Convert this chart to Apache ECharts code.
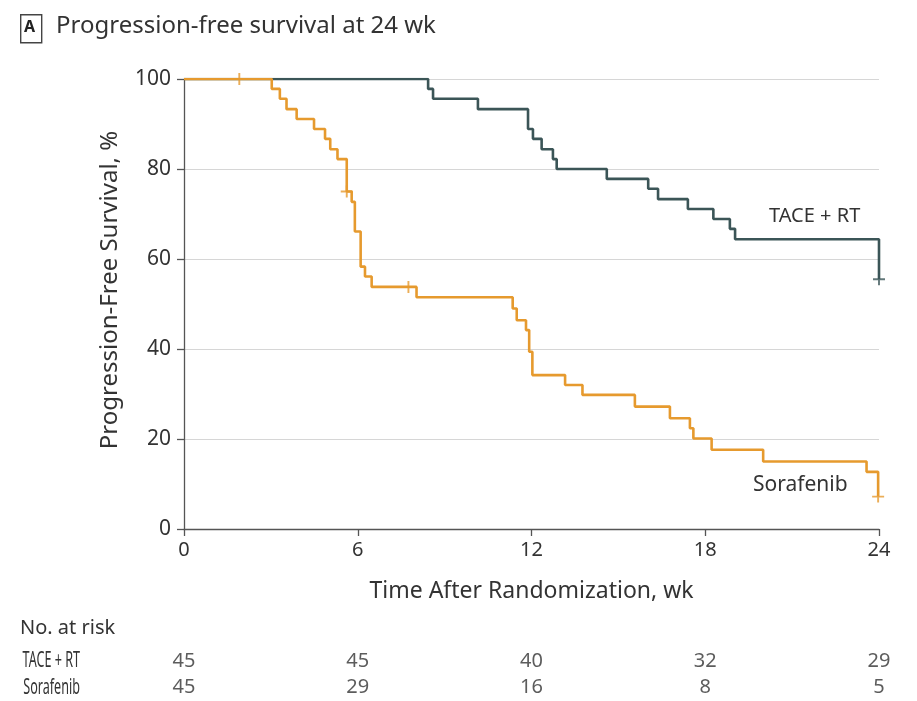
<!DOCTYPE html>
<html>
<head>
<meta charset="utf-8">
<script src="https://cdn.jsdelivr.net/npm/echarts@6/dist/echarts.min.js"></script>
<style>
html,body{margin:0;padding:0;background:#fff;}
#chart{width:917px;height:701px;}
</style>
</head>
<body>
<div id="chart"></div>
<script>
// ---- data ----
const weeksTace = [0, 8.43, 8.6, 10.15, 11.88, 12.05, 12.35, 12.74, 12.87, 14.6, 16.03, 16.37, 17.4, 18.28, 18.85, 19.03, 24.0];
const survTace  = [100, 97.8, 95.6, 93.3, 88.9, 86.7, 84.4, 82.2, 80.0, 77.8, 75.6, 73.3, 71.1, 68.9, 66.7, 64.4, 55.5];
const censorTaceWeeks = [24.0];
const censorTaceSurv  = [55.5];

const weeksSora = [0, 3.03, 3.31, 3.54, 3.89, 4.49, 4.87, 5.05, 5.3, 5.62, 5.79, 5.9, 6.1, 6.25, 6.48, 8.03, 11.35, 11.49, 11.81, 11.92, 12.03, 13.16, 13.76, 15.57, 16.78, 17.47, 17.59, 18.22, 20.0, 23.57, 23.97];
const survSora  = [100, 97.8, 95.6, 93.3, 91.1, 88.9, 86.7, 84.4, 82.2, 75.0, 72.7, 66.1, 58.3, 56.1, 53.8, 51.5, 49.0, 46.4, 44.2, 39.4, 34.2, 32.0, 29.8, 27.2, 24.6, 22.4, 20.1, 17.6, 15.0, 12.7, 7.2];
const censorSoraWeeks = [1.91, 5.62, 7.75, 23.97];
const censorSoraSurv  = [100, 75.0, 53.8, 7.2];

const xTicks = [0, 6, 12, 18, 24];
const yTicks = [0, 20, 40, 60, 80, 100];
const groups = ['TACE + RT', 'Sorafenib'];
const riskWeeks = [0, 6, 12, 18, 24];
const riskTace = [45, 45, 40, 32, 29];
const riskSora = [45, 29, 16, 8, 5];

// ---- build ----
const FONT = '"Noto Sans", "DejaVu Sans", sans-serif';
const TXT = '#333';
const C_TACE = '#3b5557';
const C_SORA = '#e69a2e';
const plusPath = 'path://M4.2,0h1.6v10h-1.6z M0,4.2h10v1.6h-10z';

const zip = (a, b) => a.map((v, i) => [v, b[i]]);

const chart = echarts.init(document.getElementById('chart'), null, {renderer: 'canvas'});
const baseGraphic = [
  {type: 'rect', left: 20, top: 14, shape: {width: 21, height: 28},
    style: {fill: '#fff', stroke: '#444', lineWidth: 1.4}},
  {type: 'text', left: 24, top: 19, style: {text: 'A', font: 'bold 16px ' + FONT, fill: '#222'}},
  {type: 'text', left: 56, top: 14, style: {text: 'Progression-free survival at 24 wk', font: '24px ' + FONT, fill: TXT}},
  {type: 'text', x: 110, y: 290, rotation: Math.PI / 2,
    style: {text: 'Progression-Free Survival, %', font: '24px ' + FONT, fill: TXT, align: 'center', verticalAlign: 'middle'}},
  {type: 'text', left: 769, top: 206, style: {text: 'TACE + RT', font: '20px ' + FONT, fill: TXT}},
  {type: 'text', left: 753, top: 475, style: {text: 'Sorafenib', font: '21px ' + FONT, fill: TXT}},
  {type: 'text', left: 20, top: 618, style: {text: 'No. at risk', font: '20px ' + FONT, fill: TXT}}
];

chart.setOption({
  animation: false,
  backgroundColor: '#fff',
  textStyle: {fontFamily: FONT},
  grid: [
    {left: 184, right: 38, top: 79, bottom: 172, containLabel: false},
    {left: 184, right: 38, top: 648, height: 56, containLabel: false}
  ],
  xAxis: [
    {
      gridIndex: 0, type: 'value', min: 0, max: 24, interval: 6,
      name: 'Time After Randomization, wk', nameLocation: 'middle', nameGap: 51,
      nameTextStyle: {fontSize: 23, color: TXT, fontFamily: FONT},
      axisLine: {show: true, lineStyle: {color: '#555', width: 1.3}},
      axisTick: {show: true, length: 7, lineStyle: {color: '#555', width: 1.3}},
      axisLabel: {fontSize: 20, color: TXT, margin: 11, fontFamily: FONT,
        formatter: v => xTicks.includes(v) ? String(v) : ''},
      splitLine: {show: false}
    },
    {
      gridIndex: 1, type: 'value', min: 0, max: 24, interval: 6,
      axisLine: {show: false}, axisTick: {show: false}, axisLabel: {show: false}, splitLine: {show: false}
    }
  ],
  yAxis: [
    {
      gridIndex: 0, type: 'value', min: 0, max: 100, interval: 20,
      axisLine: {show: true, lineStyle: {color: '#555', width: 1.3}},
      axisTick: {show: true, length: 7, lineStyle: {color: '#555', width: 1.3}},
      axisLabel: {fontSize: 21, color: TXT, margin: 13, fontFamily: FONT,
        formatter: v => yTicks.includes(v) ? String(v) : ''},
      splitLine: {show: true, lineStyle: {color: '#d6d6d6', width: 1.2}}
    },
    {
      gridIndex: 1, type: 'category', data: groups, inverse: true,
      axisLine: {show: false}, axisTick: {show: false}, splitLine: {show: false},
      axisLabel: {show: false}
    }
  ],
  graphic: baseGraphic,
  series: [
    {
      name: 'TACE + RT', type: 'line', xAxisIndex: 0, yAxisIndex: 0, step: 'end',
      data: zip(weeksTace, survTace), showSymbol: false, symbol: 'none',
      lineStyle: {color: C_TACE, width: 2.6}, z: 3
    },
    {
      name: 'Sorafenib', type: 'line', xAxisIndex: 0, yAxisIndex: 0, step: 'end',
      data: zip(weeksSora, survSora), showSymbol: false, symbol: 'none',
      lineStyle: {color: C_SORA, width: 2.6}, z: 4
    },
    {
      name: 'TACE censor', type: 'scatter', xAxisIndex: 0, yAxisIndex: 0,
      data: zip(censorTaceWeeks, censorTaceSurv), symbol: plusPath, symbolSize: 12,
      itemStyle: {color: C_TACE}, z: 5
    },
    {
      name: 'Sorafenib censor', type: 'scatter', xAxisIndex: 0, yAxisIndex: 0,
      data: zip(censorSoraWeeks, censorSoraSurv), symbol: plusPath, symbolSize: 12,
      itemStyle: {color: C_SORA}, z: 6
    },
    {
      name: 'risk TACE', type: 'scatter', xAxisIndex: 1, yAxisIndex: 1,
      data: riskWeeks.map((w, i) => [w, groups[0], riskTace[i]]),
      symbolSize: 0,
      label: {show: true, position: 'inside', fontSize: 20, color: TXT, fontFamily: FONT,
        formatter: p => String(p.value[2])}
    },
    {
      name: 'risk Sorafenib', type: 'scatter', xAxisIndex: 1, yAxisIndex: 1,
      data: riskWeeks.map((w, i) => [w, groups[1], riskSora[i]]),
      symbolSize: 0,
      label: {show: true, position: 'inside', fontSize: 20, color: TXT, fontFamily: FONT,
        formatter: p => String(p.value[2])}
    }
  ]
});

// risk-table row labels, positioned on the category axis, condensed to match the narrow face
const rowLabels = groups.map(g => ({
  type: 'text', x: 80, y: chart.convertToPixel({yAxisIndex: 1}, g), scaleX: 0.6,
  style: {text: g, font: '21px ' + FONT, fill: TXT, align: 'right', verticalAlign: 'middle'}
}));
chart.setOption({graphic: baseGraphic.concat(rowLabels)});
</script>
</body>
</html>
